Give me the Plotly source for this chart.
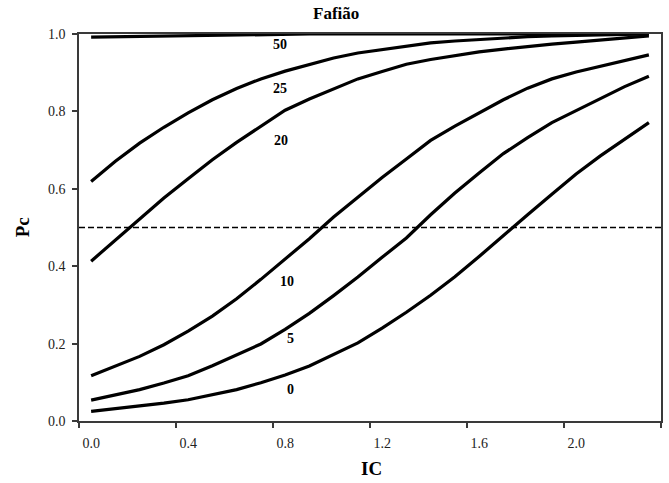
import plotly.graph_objects as go

# ---- data ----
ic = [round(0.1 * i, 1) for i in range(24)]  # IC categories 0.0 .. 2.3
series_names = ["0", "5", "10", "20", "25", "50"]
pc_0 = [0.025, 0.032, 0.038, 0.046, 0.055, 0.067, 0.081, 0.099, 0.119, 0.142, 0.171, 0.202,
        0.240, 0.281, 0.325, 0.373, 0.425, 0.480, 0.533, 0.586, 0.638, 0.685, 0.728, 0.771]
pc_5 = [0.054, 0.067, 0.081, 0.098, 0.117, 0.143, 0.172, 0.199, 0.237, 0.278, 0.324, 0.372,
        0.423, 0.473, 0.533, 0.589, 0.641, 0.691, 0.732, 0.771, 0.802, 0.833, 0.864, 0.891]
pc_10 = [0.117, 0.142, 0.167, 0.197, 0.232, 0.271, 0.316, 0.366, 0.419, 0.471, 0.527, 0.579,
         0.629, 0.677, 0.725, 0.762, 0.797, 0.830, 0.860, 0.884, 0.902, 0.916, 0.931, 0.946]
pc_20 = [0.413, 0.468, 0.522, 0.576, 0.626, 0.675, 0.720, 0.762, 0.803, 0.832, 0.859, 0.884,
         0.903, 0.922, 0.934, 0.945, 0.954, 0.961, 0.968, 0.974, 0.979, 0.984, 0.990, 0.995]
pc_25 = [0.619, 0.671, 0.718, 0.759, 0.796, 0.830, 0.859, 0.884, 0.904, 0.922, 0.938, 0.951,
         0.960, 0.968, 0.977, 0.982, 0.986, 0.990, 0.993, 0.995, 0.997, 0.998, 0.999, 1.000]
pc_50 = [0.992, 0.993, 0.994, 0.995, 0.997, 0.998, 0.999, 1.000, 1.000, 1.000, 1.000, 1.000,
         1.000, 1.000, 1.000, 1.000, 1.000, 1.000, 1.000, 1.000, 1.000, 1.000, 1.000, 1.000]
x_tick_vals = [0.0, 0.4, 0.8, 1.2, 1.6, 2.0]
x_tick_text = ["0.0", "0.4", "0.8", "1.2", "1.6", "2.0"]
y_tick_vals = [0.0, 0.2, 0.4, 0.6, 0.8, 1.0]
y_tick_text = ["0.0", "0.2", "0.4", "0.6", "0.8", "1.0"]
threshold = 0.5
title_text = "Fafião"
x_title = "IC"
y_title = "Pc"

# label anchor positions (data coords) for curve labels
label_pos = [(0.824, 0.082), (0.824, 0.214), (0.808, 0.361),
             (0.781, 0.725), (0.778, 0.859), (0.778, 0.973)]

all_series = [pc_0, pc_5, pc_10, pc_20, pc_25, pc_50]

FONT = "Liberation Serif, Times New Roman, serif"
AX = "#3a3a3a"

fig = go.Figure()
for name, vals in zip(series_names, all_series):
    fig.add_trace(go.Scatter(x=ic, y=vals, mode="lines", name=name,
                             line=dict(color="black", width=3.2), showlegend=False,
                             hoverinfo="skip"))

fig.add_hline(y=threshold, line=dict(color="black", width=1.6, dash="6px,3px"))

for name, (lx, ly) in zip(series_names, label_pos):
    fig.add_annotation(x=lx, y=ly, text=f"<b>{name}</b>", showarrow=False,
                       font=dict(family=FONT, size=14, color="black"),
                       xanchor="center", yanchor="middle")

fig.add_annotation(xref="paper", yref="paper", x=0.442, y=1.053, text=f"<b>{title_text}</b>",
                   showarrow=False, font=dict(family=FONT, size=17, color="black"),
                   xanchor="center", yanchor="middle")
fig.add_annotation(xref="paper", yref="paper", x=0.503, y=-0.1224, text=f"<b>{x_title}</b>",
                   showarrow=False, font=dict(family=FONT, size=19, color="black"),
                   xanchor="center", yanchor="middle")
fig.add_annotation(xref="paper", yref="paper", x=-0.0976, y=0.501, text=f"<b>{y_title}</b>",
                   showarrow=False, font=dict(family=FONT, size=19, color="black"),
                   xanchor="center", yanchor="middle", textangle=-90)

boundaries = [v - 0.05 for v in x_tick_vals] + [2.35]

fig.update_layout(
    width=669, height=483,
    margin=dict(l=79, r=6, t=34, b=62, pad=0),
    paper_bgcolor="white", plot_bgcolor="white",
    font=dict(family=FONT, size=14, color="black"),
    hovermode=False,
    xaxis=dict(range=[-0.05, 2.35], tickvals=x_tick_vals, ticktext=x_tick_text,
               ticks="", showgrid=False, zeroline=False,
               showline=True, linecolor=AX, linewidth=1.5, mirror=True,
               ticklabelstandoff=8,
               minor=dict(tickvals=boundaries, ticks="outside", ticklen=5,
                          tickcolor=AX, tickwidth=1.5, showgrid=False),
               tickfont=dict(family=FONT, size=14, color="#222")),
    yaxis=dict(range=[0, 1.0], tickvals=y_tick_vals, ticktext=y_tick_text,
               ticks="outside", ticklen=5, tickcolor=AX, tickwidth=1.5,
               showgrid=False, zeroline=False,
               showline=True, linecolor=AX, linewidth=1.5, mirror=True,
               ticklabelstandoff=4,
               tickfont=dict(family=FONT, size=14, color="#222")),
)

fig.write_html("out.html", config={"displayModeBar": False},
               post_script="document.body.style.margin='0px';document.body.style.overflow='hidden';")
